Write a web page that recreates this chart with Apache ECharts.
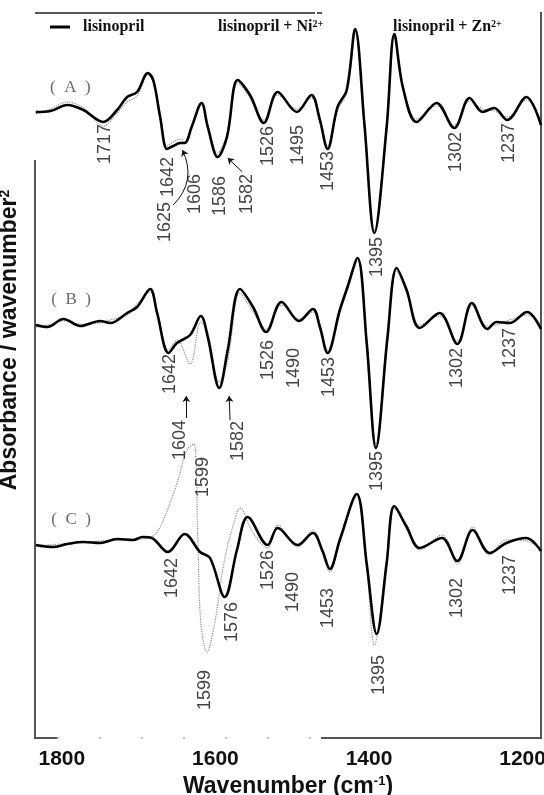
<!DOCTYPE html>
<html>
<head>
<meta charset="utf-8">
<script src="https://cdn.jsdelivr.net/npm/echarts@6/dist/echarts.min.js"></script>
<style>
html, body { margin: 0; padding: 0; background: #fff; }
#ftir-echart { width: 544px; height: 795px; }
</style>
</head>
<body>
<div id="ftir-echart"></div>
<script>
// second derivative spectra (arbitrary units, traces already offset)
const wnA = [1834, 1815, 1793, 1772, 1746, 1728, 1715, 1702, 1688, 1681, 1672, 1663, 1655, 1646, 1640, 1631, 1618, 1610, 1597, 1585, 1571, 1555, 1537, 1519, 1494, 1475, 1464, 1454, 1441, 1429, 1418, 1406, 1393, 1377, 1367, 1356, 1338, 1312, 1289, 1269, 1252, 1237, 1220, 1195, 1176];
const lisA = [62.6, 62.7, 63.3, 62.8, 61.6, 62.8, 64.1, 64.6, 66.5, 65.8, 62.1, 58.9, 59.2, 59.5, 59.5, 61.1, 63.5, 61.1, 58.1, 60.1, 65.8, 64.3, 61.5, 64.6, 62.6, 64.3, 61.8, 58.9, 63.1, 64.8, 70.9, 61.4, 50.5, 61.1, 70.4, 65.1, 61.6, 63.5, 61.0, 64.0, 62.6, 63.0, 61.8, 64.1, 61.3];
const refA = [62.4, 62.9, 63.6, 63.0, 61.2, 62.5, 63.6, 64.2, 66.3, 65.5, 62.3, 59.2, 59.6, 59.9, 59.6, 61.3, 63.3, 61.4, 58.5, 60.4, 65.5, 64.0, 61.8, 64.3, 62.9, 64.0, 62.1, 59.2, 62.8, 64.5, 70.5, 61.0, 50.8, 61.4, 70.1, 65.4, 61.9, 63.2, 61.3, 63.7, 62.9, 62.7, 62.1, 63.8, 61.6];

const wnB = [1834, 1819, 1798, 1776, 1750, 1737, 1715, 1702, 1685, 1676, 1661, 1650, 1633, 1619, 1610, 1595, 1584, 1568, 1551, 1534, 1514, 1491, 1473, 1464, 1454, 1438, 1428, 1415, 1403, 1391, 1376, 1364, 1351, 1334, 1308, 1285, 1266, 1246, 1234, 1217, 1194, 1176];
const niB = [41.3, 41.1, 41.9, 41.2, 41.7, 41.5, 42.5, 43.1, 44.9, 42.5, 38.5, 39.5, 40.3, 42.2, 40.1, 35.0, 38.8, 44.9, 43.1, 40.6, 43.6, 41.7, 42.9, 41.1, 38.5, 42.8, 45.1, 48.0, 39.5, 29.0, 40.0, 47.0, 44.8, 41.0, 42.5, 39.4, 43.5, 40.9, 41.6, 41.5, 42.6, 40.9];
const refB = [41.1, 41.3, 41.7, 41.4, 41.5, 41.8, 42.3, 43.4, 44.6, 42.8, 38.8, 39.8, 37.4, 41.6, 40.6, 35.6, 37.8, 44.5, 42.6, 40.9, 43.3, 41.9, 42.6, 41.4, 38.8, 42.5, 44.8, 47.7, 39.8, 29.4, 40.3, 46.7, 44.5, 41.3, 42.2, 39.7, 43.2, 41.2, 41.3, 41.8, 42.3, 41.2];

const wnC = [1834, 1812, 1793, 1772, 1750, 1728, 1707, 1695, 1683, 1662, 1640, 1620, 1607, 1588, 1572, 1558, 1532, 1519, 1493, 1473, 1461, 1451, 1438, 1416, 1403, 1390, 1377, 1367, 1351, 1334, 1305, 1285, 1265, 1243, 1221, 1195, 1176];
const znC = [19.3, 19.1, 19.4, 19.6, 19.5, 19.9, 19.8, 20.1, 20.0, 18.6, 20.4, 18.6, 18.0, 14.1, 18.8, 22.1, 19.3, 21.0, 19.3, 20.5, 18.8, 16.9, 19.8, 24.4, 17.4, 10.4, 17.5, 23.2, 21.1, 19.0, 20.0, 17.7, 20.8, 18.5, 19.5, 20.0, 18.7];
const wnCref = [1834, 1750, 1700, 1683, 1672, 1661, 1650, 1637, 1628, 1623, 1619, 1611, 1601, 1589, 1576, 1568, 1551, 1532, 1519, 1493, 1473, 1461, 1451, 1438, 1416, 1403, 1393, 1377, 1367, 1351, 1334, 1305, 1285, 1265, 1243, 1221, 1195, 1176];
const refC = [19.2, 19.7, 19.9, 20.1, 21.1, 23.1, 25.5, 28.8, 29.4, 20.0, 11.5, 8.6, 11.5, 17.5, 21.5, 23.0, 20.5, 19.0, 21.3, 19.1, 20.8, 18.5, 16.6, 20.1, 24.1, 17.2, 9.3, 17.8, 22.9, 21.4, 18.8, 20.3, 17.4, 21.1, 18.3, 19.8, 19.7, 18.9];

// band assignments (text) and where they sit on the plot
const bandText = ['1717', '1642', '1625', '1606', '1586', '1582', '1526', '1495', '1453', '1395', '1302', '1237',
  '1642', '1604', '1599', '1582', '1526', '1490', '1453', '1395', '1302', '1237',
  '1642', '1576', '1526', '1490', '1453', '1395', '1302', '1237', '1599'];
const bandWn = [1744, 1662, 1666, 1627, 1594, 1559, 1532, 1493, 1453, 1389, 1287, 1217,
  1659, 1646, 1616, 1571, 1532, 1498, 1452, 1389, 1285, 1216,
  1657, 1578, 1532, 1499, 1454, 1387, 1285, 1216, 1614];
const bandY = [59.4, 56.1, 51.6, 54.4, 54.2, 54.4, 59.2, 59.3, 56.7, 48.1, 58.6, 59.5,
  36.4, 29.8, 26.1, 29.7, 37.8, 37.0, 36.1, 26.7, 37.0, 39.0,
  16.0, 11.6, 16.8, 14.6, 13.0, 6.3, 14.0, 16.3, 4.8];

const arrowFrom = [[1655, 53.3], [1565, 56.6], [1638, 32.0], [1581, 31.8]];
const arrowTo = [[1643, 58.8], [1584, 58.0], [1638, 34.2], [1582, 34.2]];
const arrowCurve = [-0.35, 0, 0, 0];

const panelNames = ['(  A  )', '(  B  )', '(  C  )'];
const panelWn = [1789, 1788, 1788];
const panelY = [65.0, 43.8, 21.8];

const xTicks = [1200, 1400, 1600, 1800];

const LIS = 'lisinopril';
const NI = 'lisinopril + Ni²⁺';
const ZN = 'lisinopril + Zn²⁺';

const pairs = (xs, ys) => xs.map((x, i) => [x, ys[i]]);

const thick = { color: '#000', width: 2.6 };
const dotted = { color: '#8c8c8c', width: 1.2, type: 'dotted' };

function spectrum(name, xs, ys, style, z) {
  return {
    name: name,
    type: 'line',
    data: pairs(xs, ys),
    smooth: 0.35,
    symbol: 'none',
    lineStyle: style,
    itemStyle: { color: style.color },
    z: z,
    silent: true
  };
}

const legendText = {
  fontFamily: '"Liberation Serif", serif',
  fontWeight: 'bold',
  fontSize: 16,
  color: '#111',
  rich: {
    sup: { fontFamily: '"Liberation Serif", serif', fontWeight: 'bold', fontSize: 10, verticalAlign: 'top', color: '#111' }
  }
};
const supName = name => name.replace('²⁺', '{sup|2+}');

const option = {
  backgroundColor: '#fff',
  animation: false,
  grid: { left: 35, right: 3, top: 13, bottom: 57, containLabel: false, outerBoundsMode: 'none' },
  legend: [
    { data: [{ name: LIS, icon: 'rect' }], left: 45, top: 14, itemWidth: 20, itemHeight: 3, itemStyle: { color: '#000' }, textStyle: Object.assign({ padding: [0, 0, 0, 8] }, legendText) },
    { data: [NI], left: 185, top: 14, itemWidth: 22, itemHeight: 10, lineStyle: { opacity: 0 }, itemStyle: { opacity: 0 }, formatter: supName, textStyle: legendText },
    { data: [ZN], left: 360, top: 14, itemWidth: 22, itemHeight: 10, lineStyle: { opacity: 0 }, itemStyle: { opacity: 0 }, formatter: supName, textStyle: legendText }
  ],
  xAxis: {
    type: 'value',
    min: 1176,
    max: 1835,
    inverse: true,
    axisLine: { show: false },
    axisTick: { show: false },
    splitLine: { show: false },
    axisLabel: {
      customValues: xTicks,
      formatter: v => String(v),
      margin: 11,
      fontFamily: '"Liberation Sans", Arial, sans-serif',
      fontWeight: 'bold',
      fontSize: 21,
      color: '#111'
    },
    name: 'Wavenumber (cm{sup|-1})',
    nameLocation: 'middle',
    nameGap: 28,
    nameTextStyle: {
      fontFamily: '"Liberation Sans", Arial, sans-serif',
      fontWeight: 'bold',
      fontSize: 23,
      color: '#111',
      rich: {
        sup: { fontFamily: '"Liberation Sans", Arial, sans-serif', fontWeight: 'bold', fontSize: 13, verticalAlign: 'top', color: '#111' }
      }
    }
  },
  yAxis: {
    type: 'value',
    min: 0,
    max: 72.5,
    show: false
  },
  graphic: [
    { type: 'line', shape: { x1: 35, y1: 13, x2: 315, y2: 13 }, style: { stroke: '#555', lineWidth: 2 } },
    { type: 'line', shape: { x1: 317, y1: 13, x2: 322, y2: 13 }, style: { stroke: '#555', lineWidth: 2 } },
    { type: 'line', shape: { x1: 35, y1: 160, x2: 35, y2: 738 }, style: { stroke: '#555', lineWidth: 2 } },
    { type: 'line', shape: { x1: 541, y1: 12, x2: 541, y2: 738 }, style: { stroke: '#555', lineWidth: 2 } },
    { type: 'line', shape: { x1: 34, y1: 738, x2: 57, y2: 738 }, style: { stroke: '#555', lineWidth: 2 } },
    { type: 'line', shape: { x1: 57, y1: 738, x2: 321, y2: 738 }, style: { stroke: '#aaa', lineWidth: 1.5, lineDash: [2, 40] } },
    { type: 'line', shape: { x1: 321, y1: 738, x2: 542, y2: 738 }, style: { stroke: '#555', lineWidth: 2 } },
    {
      type: 'text',
      x: 10,
      y: 340,
      rotation: Math.PI / 2,
      style: {
        text: 'Absorbance / wavenumber{sup|2}',
        fontFamily: '"Liberation Sans", Arial, sans-serif',
        fontWeight: 'bold',
        fontSize: 23,
        fill: '#111',
        align: 'center',
        verticalAlign: 'middle',
        rich: {
          sup: { fontFamily: '"Liberation Sans", Arial, sans-serif', fontWeight: 'bold', fontSize: 14, verticalAlign: 'top', fill: '#111' }
        }
      }
    }
  ],
  series: [
    spectrum('lisinopril ref (A)', wnA, refA, dotted, 2),
    spectrum('lisinopril ref (B)', wnB, refB, dotted, 2),
    spectrum('lisinopril ref (C)', wnCref, refC, dotted, 2),
    spectrum(LIS, wnA, lisA, thick, 3),
    spectrum(NI, wnB, niB, thick, 3),
    spectrum(ZN, wnC, znC, thick, 3),
    {
      name: 'bands',
      type: 'scatter',
      symbolSize: 0,
      silent: true,
      z: 4,
      data: bandText.map((t, i) => ({ name: t, value: [bandWn[i], bandY[i]] })),
      label: {
        show: true,
        position: 'inside',
        rotate: 90,
        formatter: '{b}',
        fontFamily: '"Liberation Sans", Arial, sans-serif',
        fontSize: 18,
        color: '#111'
      }
    },
    {
      name: 'panels',
      type: 'scatter',
      symbolSize: 0,
      silent: true,
      z: 4,
      data: panelNames.map((t, i) => ({ name: t, value: [panelWn[i], panelY[i]] })),
      label: {
        show: true,
        position: 'inside',
        formatter: '{b}',
        fontFamily: '"Liberation Serif", serif',
        fontSize: 17,
        color: '#444'
      }
    },
    {
      name: 'arrows',
      type: 'lines',
      coordinateSystem: 'cartesian2d',
      silent: true,
      z: 4,
      symbol: ['none', 'arrow'],
      symbolSize: 6,
      lineStyle: { color: '#111', width: 1, opacity: 1 },
      data: arrowFrom.map((p, i) => ({ coords: [p, arrowTo[i]], lineStyle: { curveness: arrowCurve[i] } }))
    }
  ]
};

const chart = echarts.init(document.getElementById('ftir-echart'));
chart.setOption(option);
window.addEventListener('resize', () => chart.resize());
</script>
</body>
</html>
